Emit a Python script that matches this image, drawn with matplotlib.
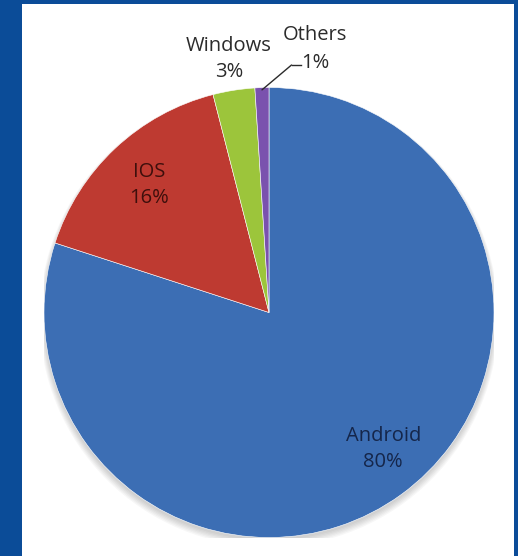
import matplotlib.pyplot as plt
import matplotlib.patches as mpatches
import numpy as np

# data
platforms = ['Android', 'IOS', 'Windows', 'Others']
shares = [80, 16, 3, 1]
colors = ['#3C6EB4', '#BE3A31', '#9CC53B', '#7A52AE']
text_colors = ['#15264A', '#3E0F0C', '#2B2B2B', '#2B2B2B']

W, H = 518, 556
fig = plt.figure(figsize=(W / 100, H / 100), dpi=100)
fig.patch.set_facecolor('#0B4C98')

# white panel
panel = fig.add_axes([22 / W, 0, (514 - 22) / W, (H - 4) / H])
panel.set_facecolor('white')
panel.set_xticks([])
panel.set_yticks([])
for s in panel.spines.values():
    s.set_visible(False)

# pie axes: centre (269, 312), radius 225 px
cx, cy, r = 269, 312.5, 225
ax = fig.add_axes([(cx - r) / W, (H - cy - r) / H, 2 * r / W, 2 * r / H])
ax.axis('off')

# soft shadow, mostly below
for i in range(6):
    ax.add_patch(mpatches.Circle((0.0, -0.012 - 0.002 * i), 1.0 + 0.004 * i,
                                 facecolor='#000000', alpha=0.03,
                                 edgecolor='none', zorder=0))

wedges, _ = ax.pie(shares, colors=colors, startangle=90, counterclock=False,
                   radius=1.0, wedgeprops=dict(edgecolor='#FFFFFF', linewidth=0.4),
                   textprops=dict(fontsize=1))
for w in wedges:
    w.set_zorder(2)
ax.set_xlim(-1, 1)
ax.set_ylim(-1, 1)
ax.set_aspect('equal')

fs = 14.5
family = ['Open Sans', 'DejaVu Sans']
for i, w in enumerate(wedges):
    mid = (w.theta1 + w.theta2) / 2
    lbl = f'{platforms[i]}\n{shares[i]}%'
    if platforms[i] == 'Android':
        a = np.deg2rad(mid + 4)
        ax.text(0.79 * np.cos(a), 0.79 * np.sin(a), lbl, ha='center', va='center',
                fontsize=fs, color=text_colors[i], family=family, linespacing=1.4,
                zorder=5)
    elif platforms[i] == 'IOS':
        a = np.deg2rad(mid)
        ax.text(0.78 * np.cos(a), 0.78 * np.sin(a), lbl, ha='center', va='center',
                fontsize=fs, color=text_colors[i], family=family, linespacing=1.4,
                zorder=5)
    elif platforms[i] == 'Windows':
        a = np.deg2rad(mid)
        ax.text(1.14 * np.cos(a), 1.14 * np.sin(a), lbl, ha='center', va='center',
                fontsize=fs, color=text_colors[i], family=family, linespacing=1.4,
                zorder=5, clip_on=False)
    else:
        a = np.deg2rad(mid)
        px, py = 0.99 * np.cos(a), 0.99 * np.sin(a)
        ax.annotate('', xy=(px, py), xytext=(0.10, 1.1),
                    arrowprops=dict(arrowstyle='-', color='#2B2B2B', lw=1.0,
                                    shrinkA=0, shrinkB=0),
                    annotation_clip=False, zorder=5)
        ax.plot([0.10, 0.14], [1.1, 1.1], color='#2B2B2B', lw=1.0,
                clip_on=False, zorder=5)
        ax.text(0.205, 1.17, lbl, ha='center', va='center', fontsize=fs,
                color=text_colors[i], family=family, linespacing=1.5,
                zorder=5, clip_on=False)

fig.savefig('out.png', dpi=100, facecolor=fig.get_facecolor())
